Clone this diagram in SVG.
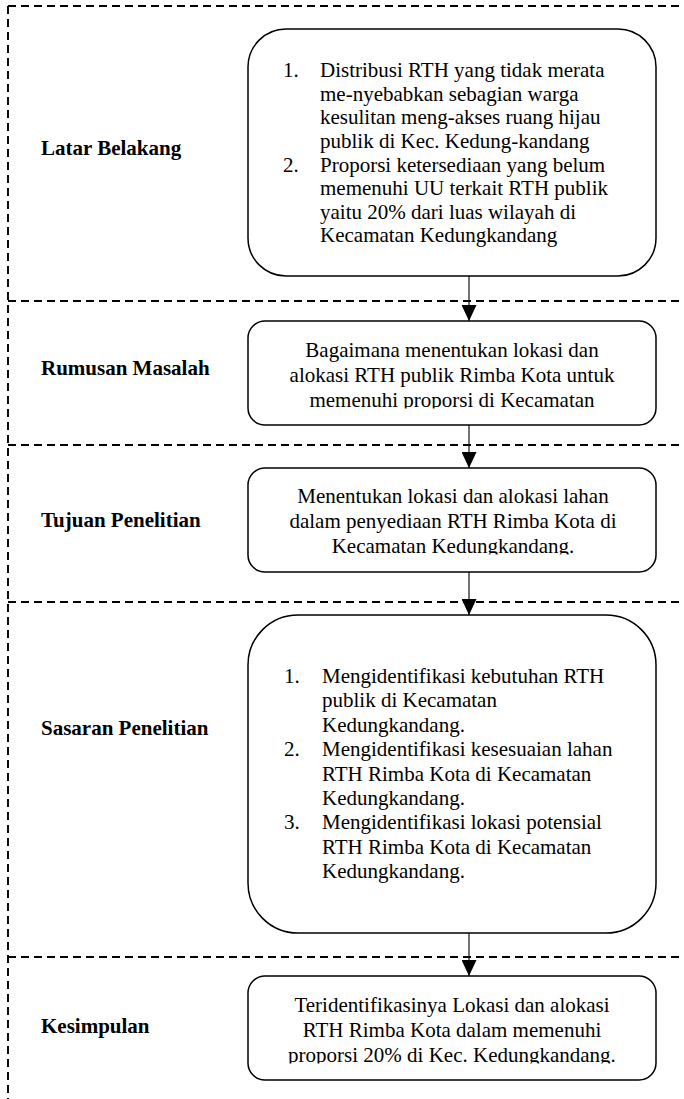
<svg xmlns="http://www.w3.org/2000/svg" width="684" height="1099" viewBox="0 0 684 1099">
<style>
.dash{stroke:#000;stroke-width:1.9;stroke-dasharray:8 5;fill:none}
.box{fill:#fff;stroke:#000;stroke-width:1.5}
.c{text-anchor:middle}
.conn{stroke:#000;stroke-width:1.1;fill:none}
</style>
<defs>
<marker id="ah" markerWidth="16" markerHeight="15" refX="16" refY="7.5" orient="auto" markerUnits="userSpaceOnUse" viewBox="0 0 16 15">
<path d="M0,0 L16,7.5 L0,15 Z" fill="#000"/>
</marker>
<clipPath id="c2"><rect x="248" y="321" width="408" height="87.5"/></clipPath>
<clipPath id="c3"><rect x="248" y="468" width="408" height="86.5"/></clipPath>
<clipPath id="c5"><rect x="248" y="976" width="408" height="87.5"/></clipPath>
</defs>
<g id="lanes">
<line class="dash" x1="8" y1="6" x2="684" y2="6"/>
<line class="dash" x1="8" y1="6" x2="8" y2="1099"/>
<line class="dash" x1="8" y1="301" x2="684" y2="301"/>
<line class="dash" x1="8" y1="445" x2="684" y2="445"/>
<line class="dash" x1="8" y1="602" x2="684" y2="602"/>
<line class="dash" x1="8" y1="957" x2="684" y2="957"/>
</g>
<g id="labels" font-family="Liberation Serif, Times New Roman, serif" font-size="21" font-weight="bold" fill="#000">
<text x="41" y="155">Latar Belakang</text>
<text x="41" y="375">Rumusan Masalah</text>
<text x="41" y="527">Tujuan Penelitian</text>
<text x="41" y="735">Sasaran Penelitian</text>
<text x="41" y="1033">Kesimpulan</text>
</g>
<g id="connectors">
<line class="conn" x1="469" y1="276" x2="469" y2="321" marker-end="url(#ah)"/>
<line class="conn" x1="469" y1="425" x2="469" y2="468" marker-end="url(#ah)"/>
<line class="conn" x1="469" y1="572" x2="469" y2="615" marker-end="url(#ah)"/>
<line class="conn" x1="469" y1="933" x2="469" y2="976" marker-end="url(#ah)"/>
</g>
<g id="node-latar" font-family="Liberation Serif, Times New Roman, serif" font-size="21" fill="#000">
<rect class="box" x="248" y="29" width="408" height="247" rx="38" ry="38"/>
<text x="283" y="77">1.</text>
<text x="320" y="77">Distribusi RTH yang tidak merata</text>
<text x="320" y="100.5">me-nyebabkan sebagian warga</text>
<text x="320" y="124">kesulitan meng-akses ruang hijau</text>
<text x="320" y="147.5">publik di Kec. Kedung-kandang</text>
<text x="283" y="171.5">2.</text>
<text x="320" y="171.5">Proporsi ketersediaan yang belum</text>
<text x="320" y="195">memenuhi UU terkait RTH publik</text>
<text x="320" y="218.5">yaitu 20% dari luas wilayah di</text>
<text x="320" y="242">Kecamatan Kedungkandang</text>
</g>
<g id="node-rumusan" font-family="Liberation Serif, Times New Roman, serif" font-size="21" fill="#000">
<rect class="box" x="248" y="321" width="408" height="104" rx="17" ry="17"/>
<g clip-path="url(#c2)">
<text class="c" x="452" y="357">Bagaimana menentukan lokasi dan</text>
<text class="c" x="452" y="382">alokasi RTH publik Rimba Kota untuk</text>
<text class="c" x="452" y="407">memenuhi proporsi di Kecamatan</text>
</g>
</g>
<g id="node-tujuan" font-family="Liberation Serif, Times New Roman, serif" font-size="21" fill="#000">
<rect class="box" x="248" y="468" width="408" height="104" rx="17" ry="17"/>
<g clip-path="url(#c3)">
<text class="c" x="453" y="503">Menentukan lokasi dan alokasi lahan</text>
<text class="c" x="453" y="528">dalam penyediaan RTH Rimba Kota di</text>
<text class="c" x="453" y="553">Kecamatan Kedungkandang.</text>
</g>
</g>
<g id="node-sasaran" font-family="Liberation Serif, Times New Roman, serif" font-size="21" fill="#000">
<rect class="box" x="248" y="615" width="408" height="318" rx="50" ry="50"/>
<text x="284" y="683">1.</text>
<text x="322" y="683">Mengidentifikasi kebutuhan RTH</text>
<text x="322" y="707.4">publik di Kecamatan</text>
<text x="322" y="731.8">Kedungkandang.</text>
<text x="284" y="756.2">2.</text>
<text x="322" y="756.2">Mengidentifikasi kesesuaian lahan</text>
<text x="322" y="780.6">RTH Rimba Kota di Kecamatan</text>
<text x="322" y="805">Kedungkandang.</text>
<text x="284" y="829.4">3.</text>
<text x="322" y="829.4">Mengidentifikasi lokasi potensial</text>
<text x="322" y="853.8">RTH Rimba Kota di Kecamatan</text>
<text x="322" y="878.2">Kedungkandang.</text>
</g>
<g id="node-kesimpulan" font-family="Liberation Serif, Times New Roman, serif" font-size="21" fill="#000">
<rect class="box" x="248" y="976" width="408" height="104" rx="17" ry="17"/>
<g clip-path="url(#c5)">
<text class="c" x="452" y="1012">Teridentifikasinya Lokasi dan alokasi</text>
<text class="c" x="452" y="1037">RTH Rimba Kota dalam memenuhi</text>
<text class="c" x="452" y="1062">proporsi 20% di Kec. Kedungkandang.</text>
</g>
</g>
</svg>
